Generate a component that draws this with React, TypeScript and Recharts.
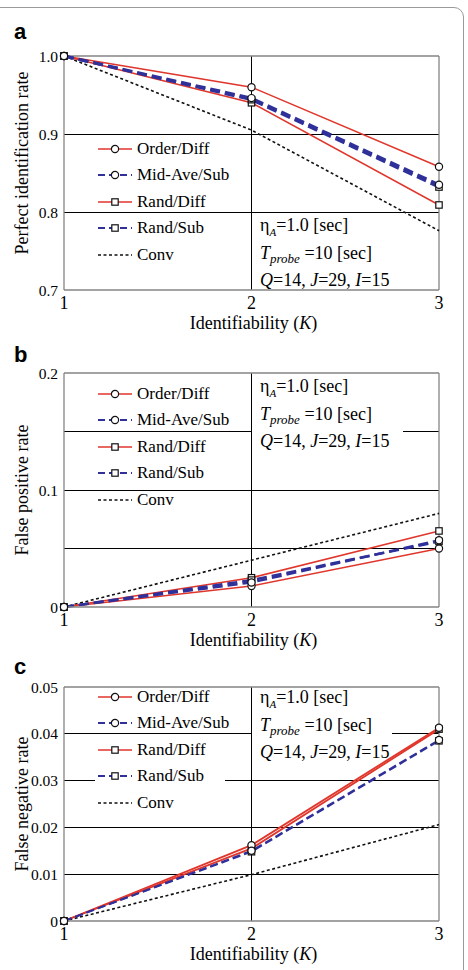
import React from 'react'
import { LineChart, Line, XAxis, YAxis, CartesianGrid, ReferenceLine, Label } from 'recharts'

const SERIF = "'Liberation Serif', 'DejaVu Serif', 'Noto Serif', 'Times New Roman', Times, serif"
const SANS = "'Liberation Sans', Arial, sans-serif"
const RED = '#e0362c'
const BLUE = '#30309a'
const BORDER = '#858585'

const K = [1, 2, 3]
const xTicks = [1, 2, 3]
const seriesNames = ['Order/Diff', 'Mid-Ave/Sub', 'Rand/Diff', 'Rand/Sub', 'Conv']

// a: perfect identification rate
const perfOrderDiff = [1.0, 0.96, 0.858]
const perfMidAveSub = [1.0, 0.946, 0.835]
const perfRandDiff = [1.0, 0.94, 0.809]
const perfRandSub = [1.0, 0.944, 0.832]
const perfConv = [1.0, 0.905, 0.776]
const perfTicks = [0.7, 0.8, 0.9, 1.0]
const perfGrid = [0.8, 0.9]

// b: false positive rate
const fpOrderDiff = [0, 0.018, 0.05]
const fpMidAveSub = [0, 0.021, 0.057]
const fpRandDiff = [0, 0.025, 0.065]
const fpRandSub = [0, 0.023, 0.056]
const fpConv = [0, 0.04, 0.08]
const fpTicks = [0, 0.1, 0.2]
const fpGrid = [0.05, 0.1, 0.15]

// c: false negative rate
const fnOrderDiff = [0, 0.0162, 0.0413]
const fnMidAveSub = [0, 0.015, 0.0387]
const fnRandDiff = [0, 0.0155, 0.041]
const fnRandSub = [0, 0.0148, 0.0385]
const fnConv = [0, 0.0099, 0.0206]
const fnTicks = [0, 0.01, 0.02, 0.03, 0.04, 0.05]
const fnGrid = [0.01, 0.02, 0.03, 0.04]

const W = 468
const PLOT_LEFT = 64
const PLOT_RIGHT = 439
const PLOT_H = 234
const Y_AXIS_W = 60
const X_AXIS_H = 45

const panels = [
  {
    letter: 'a', top: 0, plotTop: 56, letterTop: 21,
    yTitle: 'Perfect identification rate', yTitleShift: -10,
    domain: [0.7, 1.0], ticks: perfTicks, grid: perfGrid,
    fmt: (v: number) => v.toFixed(1),
    values: [perfOrderDiff, perfMidAveSub, perfRandDiff, perfRandSub, perfConv],
    redW: 1.5, blueW: 3, blueDash: '10 5',
    legendTop: 149, annoTop: 226, masks: [] as number[][],
  },
  {
    letter: 'b', top: 320, plotTop: 373, letterTop: 344,
    yTitle: 'False positive rate', yTitleShift: 0,
    domain: [0, 0.2], ticks: fpTicks, grid: fpGrid,
    fmt: (v: number) => (v === 0 ? '0' : String(v)),
    values: [fpOrderDiff, fpMidAveSub, fpRandDiff, fpRandSub, fpConv],
    redW: 1.5, blueW: 2.5, blueDash: '10 5',
    legendTop: 394, annoTop: 387, masks: [[252, 424, 151, 16]],
  },
  {
    letter: 'c', top: 640, plotTop: 687, letterTop: 656,
    yTitle: 'False negative rate', yTitleShift: 0,
    domain: [0, 0.05], ticks: fnTicks, grid: fnGrid,
    fmt: (v: number) => (v === 0 ? '0' : String(v)),
    values: [fnOrderDiff, fnMidAveSub, fnRandDiff, fnRandSub, fnConv],
    redW: 1.8, blueW: 1.8, blueDash: '8 4',
    legendTop: 697, annoTop: 698, masks: [[252, 727, 140, 14], [95, 772, 130, 16]],
  },
]

const circleDot = { r: 3.6, fill: '#fff', stroke: '#111', strokeWidth: 1.2, strokeDasharray: '0' }

function SquareDot(props: any) {
  const { cx, cy, index } = props
  if (cx == null || cy == null) return <g key={`sq-${index}`} />
  return (
    <rect key={`sq-${index}`} x={cx - 3.2} y={cy - 3.2} width={6.4} height={6.4}
      fill="#fff" stroke="#111" strokeWidth={1.2} />
  )
}

function LegendIcon({ color, dash, width, marker }: { color: string; dash?: string; width: number; marker?: string }) {
  return (
    <svg width={36} height={14} style={{ display: 'block' }}>
      <line x1={0} y1={7} x2={34} y2={7} stroke={color} strokeWidth={width} strokeDasharray={dash} />
      {marker === 'circle' && <circle cx={17} cy={7} r={3.6} fill="#fff" stroke="#111" strokeWidth={1.2} />}
      {marker === 'square' && <rect x={13.8} y={3.8} width={6.4} height={6.4} fill="#fff" stroke="#111" strokeWidth={1.2} />}
    </svg>
  )
}

const legendStyles = [
  { color: RED, width: 1.6, marker: 'circle' },
  { color: BLUE, width: 2, dash: '7 4', marker: 'circle' },
  { color: RED, width: 1.6, marker: 'square' },
  { color: BLUE, width: 2, dash: '7 4', marker: 'square' },
  { color: '#111', width: 1.6, dash: '3 2.5' },
]

function Panel({ cfg }: { cfg: typeof panels[number] }) {
  const data = K.map((k, i) => ({
    k,
    od: cfg.values[0][i],
    ma: cfg.values[1][i],
    rd: cfg.values[2][i],
    rs: cfg.values[3][i],
    cv: cfg.values[4][i],
  }))
  const mTop = cfg.plotTop - cfg.top
  const chartH = mTop + PLOT_H + X_AXIS_H
  const rowH = 26.4
  const annoRow = 25.7

  return (
    <div style={{ position: 'absolute', left: 0, top: cfg.top, width: W, height: chartH }}>
      <LineChart width={W} height={chartH} data={data}
        margin={{ top: mTop, right: W - PLOT_RIGHT, bottom: 0, left: PLOT_LEFT - Y_AXIS_W }}>
        <CartesianGrid horizontalValues={cfg.grid} verticalValues={[2]} stroke="#000" strokeWidth={1} shapeRendering="crispEdges" />
        <XAxis dataKey="k" type="number" domain={[1, 3]} ticks={xTicks} interval={0}
          height={X_AXIS_H} tickSize={0} tickMargin={6} tickLine={false}
          axisLine={{ stroke: BORDER, strokeWidth: 1.3 }}
          tick={{ fill: '#000', fontSize: 18, fontFamily: SERIF }}>
          <Label content={() => (
            <text x={(PLOT_LEFT + PLOT_RIGHT) / 2 + 2} y={mTop + PLOT_H + 39} textAnchor="middle"
              fontSize={18} fontFamily={SERIF} fill="#000">
              Identifiability (<tspan fontStyle="italic">K</tspan>)
            </text>
          )} />
        </XAxis>
        <YAxis type="number" domain={cfg.domain} ticks={cfg.ticks} interval={0}
          width={Y_AXIS_W} tickSize={0} tickMargin={6} tickLine={false}
          tickFormatter={cfg.fmt}
          axisLine={{ stroke: BORDER, strokeWidth: 1.3 }}
          tick={{ fill: '#000', fontSize: 15.5, fontFamily: SERIF }}>
          <Label content={() => {
            const cx = 22
            const cy = mTop + PLOT_H / 2 + cfg.yTitleShift
            return (
              <text x={cx} y={cy} transform={`rotate(-90, ${cx}, ${cy})`} textAnchor="middle"
                dominantBaseline="central" fontSize={18} fontFamily={SERIF} fill="#000">
                {cfg.yTitle}
              </text>
            )
          }} />
        </YAxis>
        <ReferenceLine y={cfg.domain[1]} stroke={BORDER} strokeWidth={1.3} />
        <ReferenceLine x={3} stroke={BORDER} strokeWidth={1.3} />
        <Line dataKey="cv" stroke="#111" strokeWidth={1.6} strokeDasharray="3 2.5" dot={false} isAnimationActive={false} />
        <Line dataKey="rd" stroke={RED} strokeWidth={cfg.redW} dot={SquareDot} isAnimationActive={false} />
        <Line dataKey="od" stroke={RED} strokeWidth={cfg.redW} dot={circleDot} isAnimationActive={false} />
        <Line dataKey="rs" stroke={BLUE} strokeWidth={cfg.blueW} strokeDasharray={cfg.blueDash} dot={SquareDot} isAnimationActive={false} />
        <Line dataKey="ma" stroke={BLUE} strokeWidth={cfg.blueW} strokeDasharray={cfg.blueDash} dot={circleDot} isAnimationActive={false} />
      </LineChart>

      {cfg.masks.map((m, i) => (
        <div key={i} style={{ position: 'absolute', left: m[0], top: m[1] - cfg.top, width: m[2], height: m[3], background: '#fff' }} />
      ))}

      <div style={{ position: 'absolute', left: 14, top: cfg.letterTop - cfg.top, fontFamily: SANS, fontWeight: 'bold', fontSize: 22, lineHeight: '22px' }}>
        {cfg.letter}
      </div>

      <div style={{ position: 'absolute', left: 98, top: cfg.legendTop - cfg.top - rowH / 2 }}>
        {seriesNames.map((name, i) => (
          <div key={name} style={{ display: 'flex', alignItems: 'center', height: rowH }}>
            <LegendIcon {...legendStyles[i]} />
            <span style={{ fontFamily: SERIF, fontSize: 17, marginLeft: 3 }}>{name}</span>
          </div>
        ))}
      </div>

      <div style={{ position: 'absolute', left: 260, top: cfg.annoTop - cfg.top - annoRow / 2, fontFamily: SERIF, fontSize: 18, lineHeight: `${annoRow}px`, whiteSpace: 'nowrap' }}>
        <div>η<span style={{ fontStyle: 'italic', fontSize: 11, position: 'relative', top: 5 }}>A</span>=1.0 [sec]</div>
        <div><i>T</i><span style={{ fontStyle: 'italic', fontSize: 13, position: 'relative', top: 4 }}>probe</span> =10 [sec]</div>
        <div><i>Q</i>=14, <i>J</i>=29, <i>I</i>=15</div>
      </div>
    </div>
  )
}

export default function App() {
  return (
    <div style={{ position: 'absolute', left: 0, top: 0, width: W, height: 970, overflow: 'hidden', background: '#fff' }}>
      <div style={{ position: 'absolute', left: -14, top: 7, width: 478, height: 1000, boxSizing: 'border-box', border: '1.5px solid #9a9a9a', borderRadius: 10 }} />
      {panels.map((p) => <Panel key={p.letter} cfg={p} />)}
    </div>
  )
}
